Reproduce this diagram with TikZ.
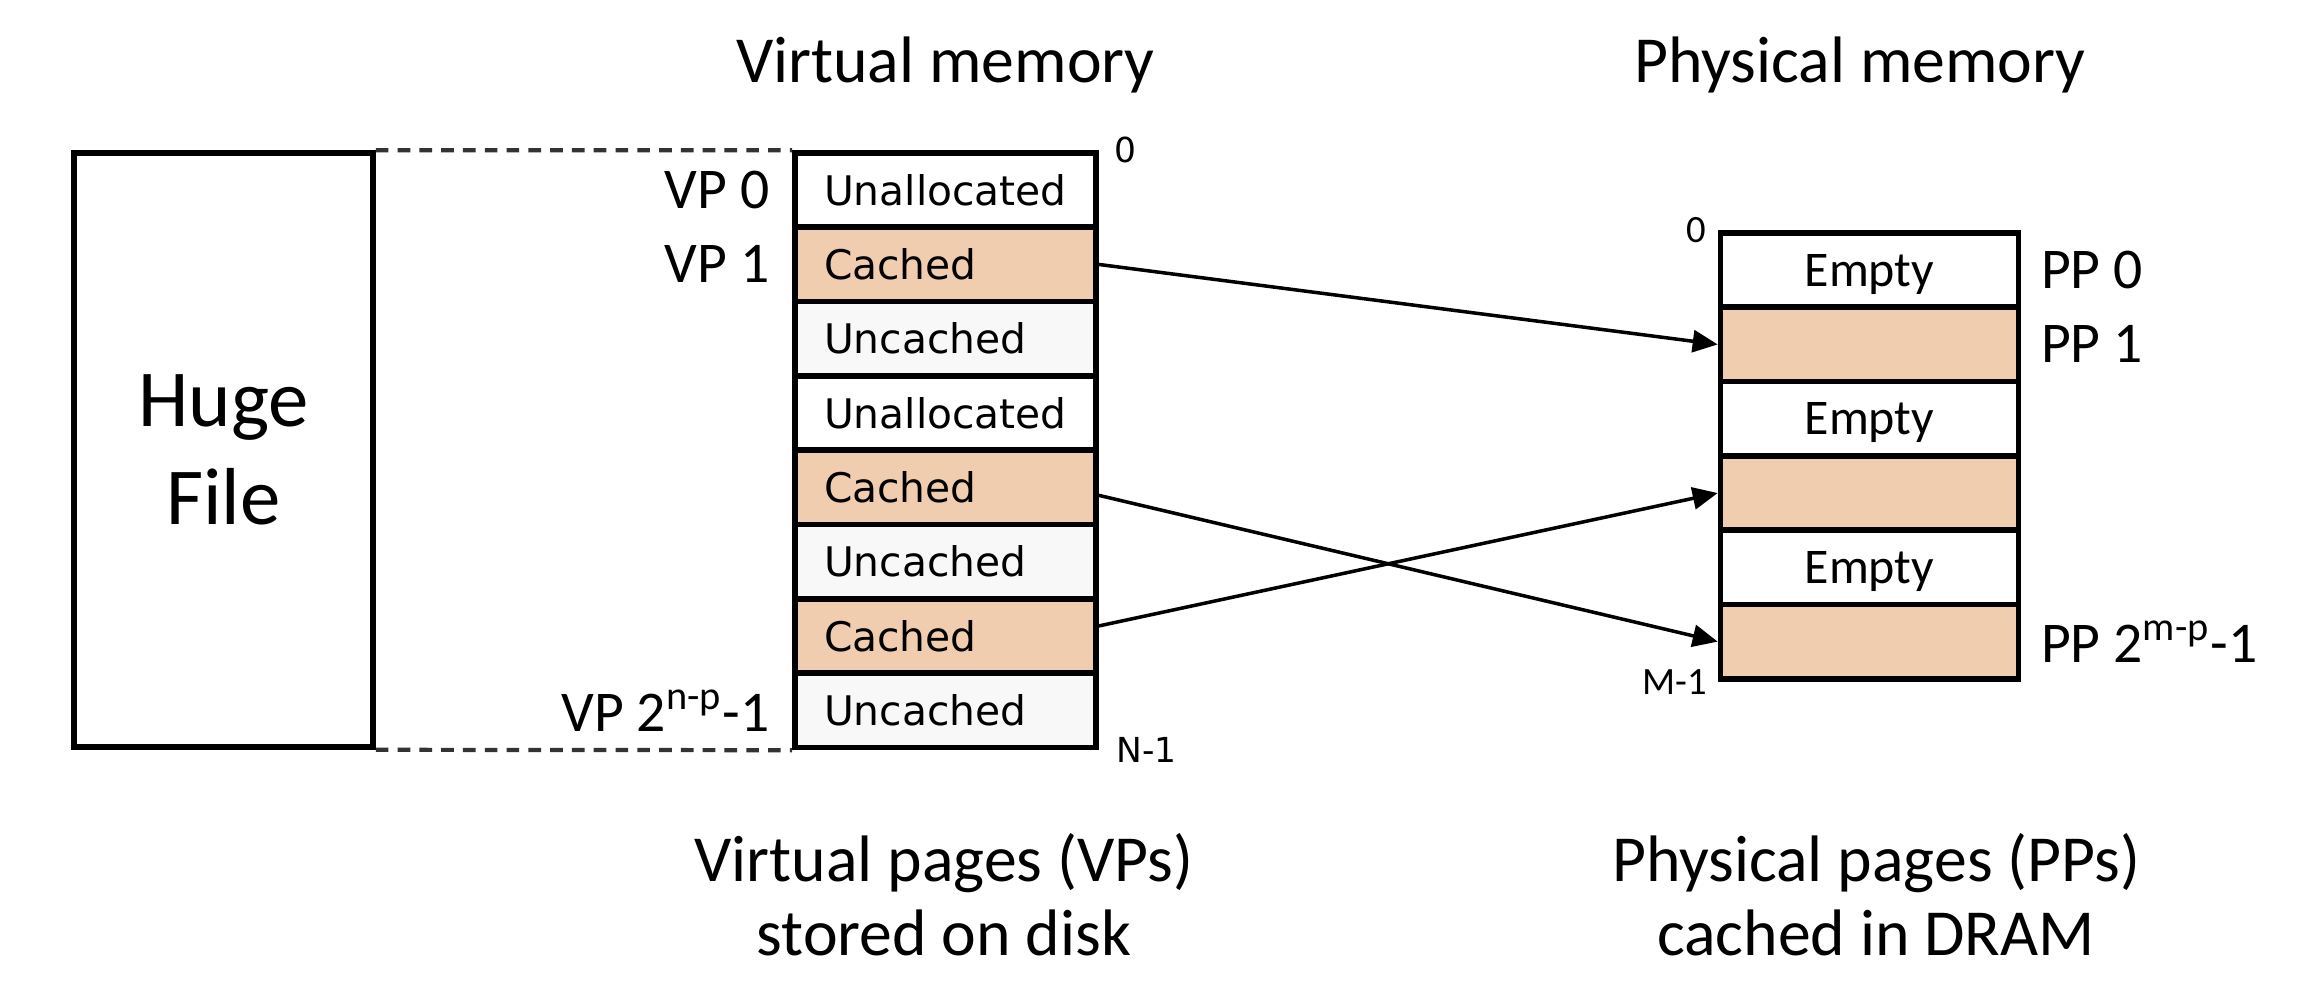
\documentclass[tikz,border=0pt]{standalone}
\usepackage{fontspec}
\setmainfont{Carlito}
\newfontfamily\cellfont{DejaVu Sans}
\usepackage{tikz}
\usetikzlibrary{arrows.meta,positioning}
\definecolor{cachedfill}{HTML}{F1CDB0}
\definecolor{uncachedfill}{HTML}{F8F8F8}
\definecolor{dashgray}{HTML}{333333}

\begin{document}
\begin{tikzpicture}[
    vpage/.style={draw, line width=1.6pt, fill=white, text width=2.43cm, inner xsep=0.29cm, minimum height=0.743cm, align=left, font=\cellfont\fontsize{11.6}{13}\selectfont},
    vcached/.style={vpage, fill=cachedfill},
    vuncached/.style={vpage, fill=uncachedfill},
    ppage/.style={draw, line width=1.6pt, fill=white, minimum width=2.98cm, minimum height=0.743cm, text depth=0pt, font=\fontsize{14.2}{16}\selectfont},
    pcached/.style={ppage, fill=cachedfill},
    filebox/.style={draw, line width=1.6pt, minimum width=2.99cm, minimum height=5.94cm, align=center, font=\fontsize{23}{28}\selectfont},
    pagelabel/.style={inner sep=0pt, font=\fontsize{16.4}{18}\selectfont},
    addrlabel/.style={inner sep=0pt, font=\cellfont\fontsize{9.8}{11}\selectfont},
    paddrlabel/.style={inner sep=0pt, font=\fontsize{11}{13}\selectfont},
    heading/.style={anchor=base, align=center, font=\fontsize{18.7}{21}\selectfont},
    pagemap/.style={-{Triangle[length=0.25cm, width=0.22cm]}, line width=1pt},
    filemap/.style={dashgray, line width=1.2pt, dash pattern=on 3.6pt off 2.6pt}
]
\useasboundingbox (0,0) rectangle (23.1,9.96);

% Huge file
\node[filebox] (huge) at (2.235,5.46) {Huge\\File};

% Virtual memory
\node[vpage] (v1) at (9.455,8.0585) {Unallocated};
\node[vcached] (v2) at (9.455,7.3155) {Cached};
\node[vuncached] (v3) at (9.455,6.5725) {Uncached};
\node[vpage] (v4) at (9.455,5.8295) {Unallocated};
\node[vcached] (v5) at (9.455,5.0865) {Cached};
\node[vuncached] (v6) at (9.455,4.3435) {Uncached};
\node[vcached] (v7) at (9.455,3.6005) {Cached};
\node[vuncached] (v8) at (9.455,2.8575) {Uncached};

% Physical memory
\node[ppage] (p1) at (18.695,7.2585) {Empty};
\node[pcached] (p2) at (18.695,6.5155) {};
\node[ppage] (p3) at (18.695,5.7725) {Empty};
\node[pcached] (p4) at (18.695,5.0295) {};
\node[ppage] (p5) at (18.695,4.2865) {Empty};
\node[pcached] (p6) at (18.695,3.5435) {};

% File to virtual memory
\draw[filemap] (huge.north east) -- (v1.north west);
\draw[filemap] (huge.south east) -- (v8.south west);

% Page mappings
\draw[pagemap] (v2.east) -- (p2.west);
\draw[pagemap] ([yshift=-0.08cm]v5.east) -- (p6.west);
\draw[pagemap] ([yshift=0.1cm]v7.east) -- (p4.west);

% Page labels
\node[pagelabel, left=0.22cm of v1] (vp0) {VP 0};
\node[pagelabel, left=0.22cm of v2] (vp1) {VP 1};
\node[pagelabel, left=0.22cm of v8] (vplast) {VP 2\textsuperscript{n-p}-1};
\node[pagelabel, right=0.19cm of p1] (pp0) {PP 0};
\node[pagelabel, right=0.19cm of p2] (pp1) {PP 1};
\node[pagelabel, right=0.19cm of p6] (pplast) {PP 2\textsuperscript{m-p}-1};

% Addresses
\node[addrlabel, right=0.15cm of v1.north east] (vfirst) {0};
\node[addrlabel, right=0.17cm of v8.south east] (vend) {N-1};
\node[paddrlabel, left=0.11cm of p1.north west] (pfirst) {0};
\node[paddrlabel, left=0.1cm of p6.south west] (pend) {M-1};

% Headings
\node[heading] (vmtitle) at (9.455,9.135) {Virtual memory};
\node[heading] (pmtitle) at (18.6,9.135) {Physical memory};
\node[heading] (vmnote) at (9.44,0.41) {Virtual pages (VPs)\\stored on disk};
\node[heading] (pmnote) at (18.76,0.41) {Physical pages (PPs)\\cached in DRAM};

\end{tikzpicture}
\end{document}
